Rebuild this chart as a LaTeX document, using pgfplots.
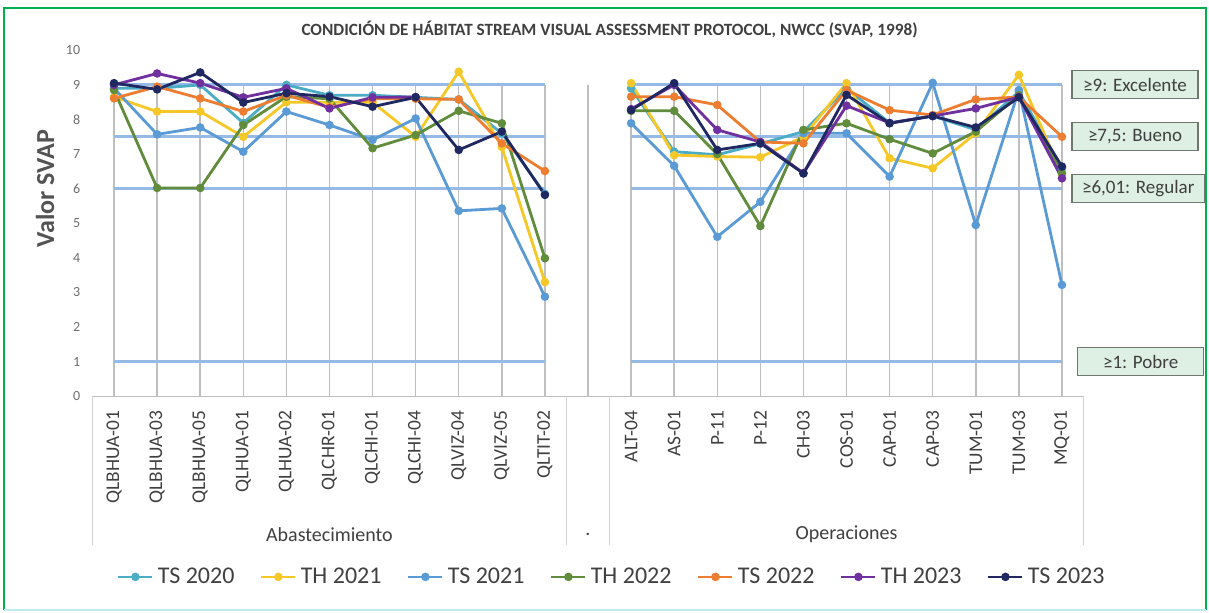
\documentclass[border=0pt]{standalone}
\usepackage{fontspec}
\setmainfont{Carlito}
\usepackage{pgfplots}
\usepackage{pgfplotstable}
\pgfplotsset{compat=1.18}

\definecolor{cTSa}{RGB}{75,172,198}
\definecolor{cTHa}{RGB}{245,200,40}
\definecolor{cTSb}{RGB}{91,155,213}
\definecolor{cTHb}{RGB}{96,140,60}
\definecolor{cTSc}{RGB}{237,125,49}
\definecolor{cTHc}{RGB}{112,48,160}
\definecolor{cTSd}{RGB}{31,40,96}
\definecolor{threshblue}{RGB}{150,186,230}
\definecolor{gridgray}{RGB}{191,191,191}
\definecolor{labelgray}{RGB}{64,64,64}
\definecolor{tickgray}{RGB}{110,110,110}
\definecolor{boxfill}{RGB}{222,239,228}
\definecolor{boxborder}{RGB}{110,120,110}
\definecolor{framegreen}{RGB}{0,176,80}
\definecolor{framecyan}{RGB}{190,235,240}

% x = station position (11 is the empty gap between the two groups)
\pgfplotstableread{
x  ts20 th21 ts21 th22 ts22 th23 ts23
0  8.90 8.65 8.90 8.85 8.61 9.00 9.05
1  8.90 8.23 7.57 6.02 8.95 9.33 8.87
2  9.00 8.23 7.77 6.02 8.61 9.05 9.36
3  7.90 7.50 7.07 7.84 8.23 8.64 8.49
4  9.00 8.50 8.23 8.66 8.70 8.90 8.76
5  8.70 8.50 7.84 8.60 8.35 8.32 8.66
6  8.70 8.50 7.41 7.17 8.60 8.64 8.37
7  8.64 7.50 8.03 7.55 8.60 8.65 8.64
8  8.58 9.38 5.36 8.25 8.58 nan  7.12
9  7.60 7.20 5.43 7.89 7.31 nan  7.65
10 5.85 3.30 2.88 3.99 6.51 nan  5.82
11 nan  nan  nan  nan  nan  nan  nan
12 8.90 9.05 7.89 8.25 8.66 8.30 8.27
13 7.07 6.97 6.66 8.25 8.66 9.00 9.05
14 6.98 6.93 4.61 7.00 8.42 7.70 7.12
15 7.30 6.91 5.62 4.92 7.35 7.35 7.31
16 7.65 7.50 7.60 7.70 7.31 6.45 6.44
17 8.90 9.05 7.60 7.89 8.85 8.40 8.71
18 7.90 6.88 6.35 7.43 8.27 7.90 7.89
19 8.10 6.59 9.06 7.02 8.13 8.10 8.10
20 7.70 7.60 4.95 7.65 8.58 8.32 7.77
21 8.80 9.29 8.85 8.70 8.65 8.65 8.64
22 6.60 6.40 3.22 6.45 7.50 6.30 6.64
}\svap

\begin{document}
\begin{tikzpicture}
\useasboundingbox (0,0) rectangle (604.5pt,306.5pt);
\fill[white] (0,0) rectangle (604.5pt,306.5pt);
\draw[framegreen, line width=1pt] (2pt,1.5pt) -- (2pt,302.5pt) -- (603pt,302.5pt) -- (603pt,1.5pt);
\draw[framecyan, line width=1pt] (2pt,1.5pt) -- (603pt,1.5pt);

\begin{axis}[
  at={(46.25pt,108.35pt)}, anchor=south west,
  scale only axis, width=495.5pt, height=173pt,
  xmin=-0.5, xmax=22.5, ymin=0, ymax=10,
  clip=false,
  unbounded coords=jump,
  axis line style={draw=none},
  major tick length=0pt,
  xtick={0,1,2,3,4,5,6,7,8,9,10,12,13,14,15,16,17,18,19,20,21,22},
  xticklabels={QLBHUA-01,QLBHUA-03,QLBHUA-05,QLHUA-01,QLHUA-02,QLCHR-01,QLCHI-01,QLCHI-04,QLVIZ-04,QLVIZ-05,QLTIT-02,
    ALT-04,AS-01,P-11,P-12,CH-03,COS-01,CAP-01,CAP-03,TUM-01,TUM-03,MQ-01},
  xticklabel style={rotate=90, anchor=east, inner sep=0pt, text=labelgray, font=\fontsize{9.7}{10}\selectfont},
  xticklabel shift=7pt,
  ytick={0,1,2,3,4,5,6,7,8,9,10},
  yticklabel style={inner sep=0pt, text=tickgray, font=\fontsize{7}{8}\selectfont},
  yticklabel shift=6pt,
  /pgf/number format/assume math mode=true,
  legend columns=7,
  legend style={at={(0.525,-0.522)}, anchor=center, draw=none, fill=none,
    font=\fontsize{12}{14}\selectfont, text=labelgray,
    /tikz/every even column/.append style={column sep=10.75pt}},
  legend image code/.code={\draw[#1, mark repeat=2, mark phase=2] plot coordinates {(0pt,0pt) (8.5pt,0pt) (17pt,0pt)};},
  every axis plot/.append style={line width=1.4pt, mark=*, mark size=1.4pt},
]
% drop lines and threshold lines
\addplot[ycomb, draw=gridgray, line width=0.75pt, mark=none, forget plot] table[x=x, y expr=9] {\svap};
\addplot[threshblue, line width=1.6pt, mark=none, forget plot] coordinates {(0,9) (10,9) (11,nan) (12,9) (22,9)};
\addplot[threshblue, line width=1.6pt, mark=none, forget plot] coordinates {(0,7.5) (10,7.5) (11,nan) (12,7.5) (22,7.5)};
\addplot[threshblue, line width=1.6pt, mark=none, forget plot] coordinates {(0,6) (10,6) (11,nan) (12,6) (22,6)};
\addplot[threshblue, line width=1.6pt, mark=none, forget plot] coordinates {(0,1) (10,1) (11,nan) (12,1) (22,1)};

\addplot[color=cTSa] table[x=x, y=ts20] {\svap}; \addlegendentry{TS 2020}
\addplot[color=cTHa] table[x=x, y=th21] {\svap}; \addlegendentry{TH 2021}
\addplot[color=cTSb] table[x=x, y=ts21] {\svap}; \addlegendentry{TS 2021}
\addplot[color=cTHb] table[x=x, y=th22] {\svap}; \addlegendentry{TH 2022}
\addplot[color=cTSc] table[x=x, y=ts22] {\svap}; \addlegendentry{TS 2022}
\addplot[color=cTHc] table[x=x, y=th23] {\svap}; \addlegendentry{TH 2023}
\addplot[color=cTSd] table[x=x, y=ts23] {\svap}; \addlegendentry{TS 2023}

% category axis frame
\draw[gridgray, line width=0.6pt] (axis cs:-0.5,0) -- (axis cs:22.5,0);
\draw[gridgray!70, line width=0.6pt] (axis cs:-0.5,0) -- (axis cs:-0.5,-4.3);
\draw[gridgray!70, line width=0.6pt] (axis cs:10.5,0) -- (axis cs:10.5,-4.3);
\draw[gridgray!70, line width=0.6pt] (axis cs:11.5,0) -- (axis cs:11.5,-4.3);
\draw[gridgray!70, line width=0.6pt] (axis cs:22.5,0) -- (axis cs:22.5,-4.3);
\node[text=labelgray, font=\fontsize{10}{12}\selectfont] at (axis cs:5,-4.0) {Abastecimiento};
\node[text=labelgray, font=\fontsize{10}{12}\selectfont] at (axis cs:11,-4.0) {.};
\node[text=labelgray, font=\fontsize{10}{12}\selectfont] at (axis cs:17,-4.0) {Operaciones};

% title and y label
\node[text=labelgray, font=\bfseries\fontsize{8.6}{10}\selectfont] at (axis cs:11.5,10.6)
  {CONDICIÓN DE HÁBITAT STREAM VISUAL ASSESSMENT PROTOCOL, NWCC (SVAP, 1998)};
\node[rotate=90, text=labelgray!90, font=\bfseries\fontsize{13}{15}\selectfont] at ([xshift=-23.75pt]axis cs:-0.5,6) {Valor SVAP};

% class boxes
\tikzset{classbox/.style={anchor=west, fill=boxfill, draw=boxborder, line width=0.6pt,
  minimum width=63pt, minimum height=14pt, inner xsep=5pt, inner ysep=0pt,
  text=labelgray, font=\fontsize{9.5}{11}\selectfont}}
\node[classbox] at (axis cs:22.22,9) {≥9: Excelente};
\node[classbox] at (axis cs:22.22,7.5) {≥7,5: Bueno};
\node[classbox] at (axis cs:22.22,6) {≥6,01: Regular};
\node[classbox] at (axis cs:22.35,1) {≥1: Pobre};
\end{axis}
\end{tikzpicture}
\end{document}
